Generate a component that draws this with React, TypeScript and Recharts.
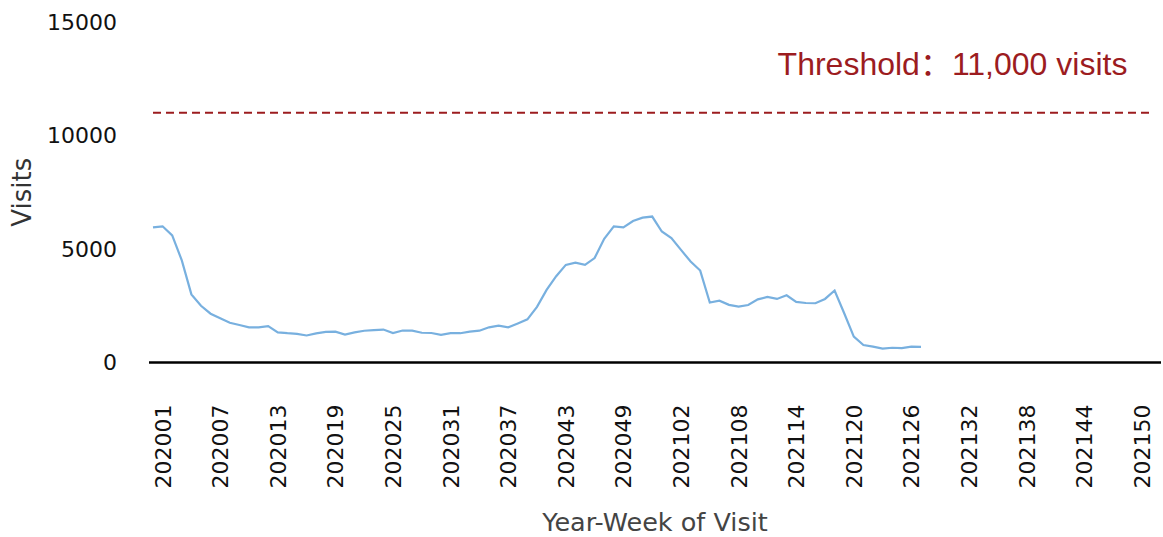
import React from "react";
import { Line, LineChart, ReferenceLine, XAxis, YAxis } from "recharts";

document.body.style.margin = "0";

// year-week categories: last week of 2019, 53 ISO weeks of 2020, 52 of 2021
const pad = (n: number) => String(n).padStart(2, "0");
const WEEKS: string[] = [
  "201952",
  ...Array.from({ length: 53 }, (_, i) => `2020${pad(i + 1)}`),
  ...Array.from({ length: 52 }, (_, i) => `2021${pad(i + 1)}`),
];

const TICK_LABELS = [
  "202001", "202007", "202013", "202019", "202025", "202031", "202037", "202043", "202049",
  "202102", "202108", "202114", "202120", "202126", "202132", "202138", "202144", "202150",
];

// weekly visits (data stops at 202127)
const VISITS = [
  5950, 6000, 5600, 4500, 3000, 2500, 2150, 1950, 1750, 1650,
  1550, 1550, 1600, 1330, 1290, 1260, 1190, 1280, 1345, 1360,
  1230, 1330, 1400, 1430, 1450, 1300, 1410, 1400, 1310, 1300,
  1220, 1290, 1290, 1360, 1400, 1550, 1620, 1550, 1720, 1900,
  2450, 3200, 3800, 4300, 4400, 4300, 4600, 5450, 6000, 5950,
  6230, 6380, 6430, 5770, 5480, 4960, 4450, 4050, 2640, 2720,
  2540, 2460, 2530, 2780, 2890, 2800, 2960, 2670, 2620, 2610,
  2800, 3170, 2170, 1140, 770, 700, 610, 650, 630, 700,
  690,
];

const THRESHOLD = 11000;
const Y_TICKS = [0, 5000, 10000, 15000];

const AXIS_FONT = "'DejaVu Sans', sans-serif";
const RED = "#9c1c1f";

const data = WEEKS.map((week, i) => ({
  week,
  visits: i < VISITS.length ? VISITS[i] : null,
}));

const WeekTick = (props: any) => {
  const { x, y, payload } = props;
  if (!TICK_LABELS.includes(payload.value)) return <g />;
  return (
    <text
      x={x}
      y={y}
      transform={`rotate(-90 ${x} ${y})`}
      textAnchor="end"
      dy="0.36em"
      fontSize={22}
      fontFamily={AXIS_FONT}
      fill="#111"
    >
      {payload.value}
    </text>
  );
};

const ThresholdLabel = (props: any) => {
  const { viewBox } = props;
  if (!viewBox) return null;
  return (
    <text
      x={viewBox.x + viewBox.width - 24}
      y={viewBox.y - 38}
      textAnchor="end"
      fontSize={32}
      fontFamily="'Liberation Sans', Arial, 'Noto Sans CJK SC', sans-serif"
      fill={RED}
    >
      Threshold：11,000 visits
    </text>
  );
};

export default function App() {
  return (
    <LineChart
      width={1163}
      height={537}
      data={data}
      margin={{ top: 22, right: 2, bottom: 0, left: 0 }}
    >
      <XAxis
        dataKey="week"
        type="category"
        interval={0}
        padding={{ left: 4, right: 0 }}
        height={174.5}
        axisLine={{ stroke: "#000", strokeWidth: 2.5 }}
        tickLine={false}
        tickSize={0}
        tickMargin={42}
        tick={<WeekTick />}
        label={{
          value: "Year-Week of Visit",
          position: "insideBottom",
          offset: 6,
          fontSize: 25.5,
          fontFamily: AXIS_FONT,
          fill: "#444",
        }}
      />
      <YAxis
        width={149}
        domain={[0, 15000]}
        ticks={Y_TICKS}
        axisLine={false}
        tickLine={false}
        tickSize={0}
        tickMargin={32}
        tick={{ fontSize: 22, fontFamily: AXIS_FONT, fill: "#111" }}
        label={{
          value: "Visits",
          angle: -90,
          position: "insideLeft",
          offset: 22,
          fontSize: 26,
          fontFamily: AXIS_FONT,
          fill: "#333",
          style: { textAnchor: "middle" },
        }}
      />
      <ReferenceLine
        segment={[
          { x: WEEKS[0], y: THRESHOLD },
          { x: "202151", y: THRESHOLD },
        ]}
        stroke={RED}
        strokeWidth={2}
        strokeDasharray="8 5"
        label={<ThresholdLabel />}
      />
      <Line
        type="linear"
        dataKey="visits"
        stroke="#78b0df"
        strokeWidth={2.2}
        dot={false}
        activeDot={false}
        isAnimationActive={false}
      />
    </LineChart>
  );
}
